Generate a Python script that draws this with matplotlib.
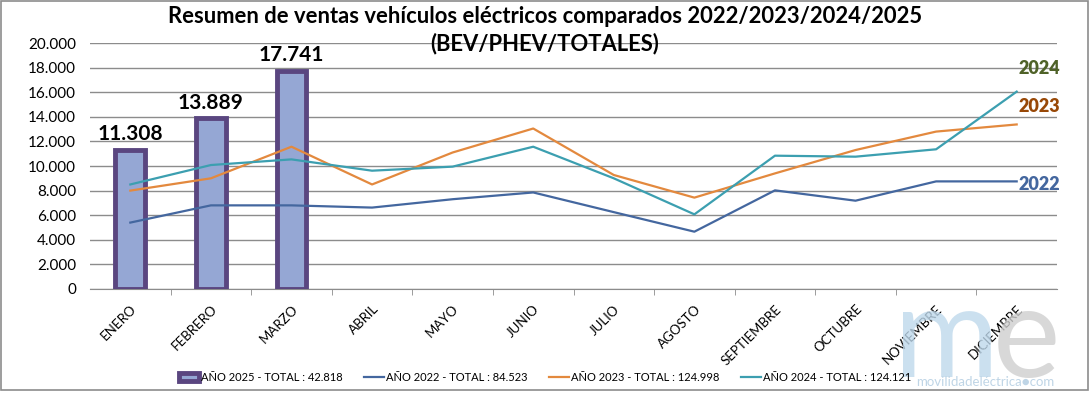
import numpy as np
import matplotlib
matplotlib.use('Agg')
import matplotlib.pyplot as plt
from matplotlib.ticker import FuncFormatter, FixedLocator
from matplotlib.patches import Rectangle

plt.rcParams['font.family'] = ['Lato', 'DejaVu Sans']

meses = ['ENERO', 'FEBRERO', 'MARZO', 'ABRIL', 'MAYO', 'JUNIO', 'JULIO', 'AGOSTO',
         'SEPTIEMBRE', 'OCTUBRE', 'NOVIEMBRE', 'DICIEMBRE']
ventas_2025 = [11308, 13889, 17741]
ventas_2022 = [5400, 6800, 6800, 6620, 7300, 7850, 6250, 4660, 8020, 7180, 8750, 8750]
ventas_2023 = [8000, 9000, 11570, 8500, 11100, 13050, 9270, 7430, 9400, 11300, 12800, 13380]
ventas_2024 = [8500, 10080, 10540, 9620, 9950, 11570, 9000, 6070, 10840, 10760, 11360, 16050]
leyenda = ['AÑO 2025 - TOTAL : 42.818', 'AÑO 2022 - TOTAL : 84.523',
           'AÑO 2023 - TOTAL : 124.998', 'AÑO 2024 - TOTAL : 124.121']

c22 = '#44679F'
c23 = '#E3893E'
c24 = '#3C9FB0'

def miles(v):
    return f'{int(v):,}'.replace(',', '.')

fig = plt.figure(figsize=(10.9, 3.95), dpi=100)
ax = fig.add_axes([0.0826, 0.2684, 0.8871, 0.6226])

x = np.arange(len(meses))
barras = ax.bar(x[:len(ventas_2025)], ventas_2025, width=0.37, color='#95A7D4',
                edgecolor='#5A4680', linewidth=3.5, zorder=3, label=leyenda[0])
l22, = ax.plot(x, ventas_2022, color=c22, lw=1.6, zorder=4, label=leyenda[1])
l23, = ax.plot(x, ventas_2023, color=c23, lw=1.6, zorder=4, label=leyenda[2])
l24, = ax.plot(x, ventas_2024, color=c24, lw=1.6, zorder=4, label=leyenda[3])

for xi, v in zip(x, ventas_2025):
    ax.annotate(miles(v), (xi, v), xytext=(0, 4), textcoords='offset points',
                ha='center', va='bottom', fontsize=15, fontweight='bold', color='black')

# etiquetas de año al final de cada linea
for serie, txt, col, dy in [(ventas_2022, '2022', c22, -2), (ventas_2023, '2023', '#984807', 13),
                            (ventas_2024, '2024', '#4F6228', 17)]:
    ax.annotate(txt, (x[-1], serie[-1]), xytext=(1, dy), textcoords='offset points',
                ha='left', va='center', fontsize=13, fontweight='heavy', color=col,
                annotation_clip=False)

ax.set_xlim(-0.5, len(meses) - 0.5)
ax.set_ylim(0, 20000)
ax.set_yticks(np.arange(0, 20001, 2000))
ax.yaxis.set_major_formatter(FuncFormatter(lambda v, p: miles(v)))
ax.grid(axis='y', color='#8C8C8C', lw=1, zorder=0)
ax.set_axisbelow(True)
for s in ['top', 'right', 'left']:
    ax.spines[s].set_visible(False)
ax.spines['bottom'].set_color('#8C8C8C')
ax.tick_params(axis='y', length=0, labelsize=11, pad=10)

ax.set_xticks(x)
ax.set_xticklabels(meses, rotation=45, ha='right', rotation_mode='anchor', fontsize=9.5)
ax.tick_params(axis='x', which='major', length=0, pad=10)
ax.xaxis.set_minor_locator(FixedLocator(np.arange(0.5, len(meses) - 1, 1)))
ax.tick_params(axis='x', which='minor', length=4, color='#8C8C8C')

fig.text(0.5, 0.985, 'Resumen de ventas vehículos eléctricos comparados 2022/2023/2024/2025\n(BEV/PHEV/TOTALES)',
         ha='center', va='top', fontsize=15.8, fontweight='bold', linespacing=1.3)

# marca de agua
fig.text(0.868, 0.045, 'm', fontsize=92, color='#BFD9EC', ha='center', va='baseline', zorder=0, alpha=0.8)
fig.text(0.942, 0.045, 'e', fontsize=92, color='#CFCFCF', ha='center', va='baseline', zorder=0, alpha=0.8)
fig.text(0.904, 0.018, 'movilidadeléctrica●com', fontsize=9.5, color='#BFD5E6', ha='center', va='bottom')

fig.legend(handles=[barras, l22, l23, l24], loc='center', bbox_to_anchor=(0.5, 0.045),
           ncol=4, frameon=False, fontsize=8, handlelength=1.8, handletextpad=0.2,
           columnspacing=1.9)

fig.patches.append(Rectangle((0.001, 0.012), 0.997, 0.986, transform=fig.transFigure,
                             fill=False, edgecolor='#8C8C8C', lw=1.2))

fig.savefig('out.png', dpi=100)
